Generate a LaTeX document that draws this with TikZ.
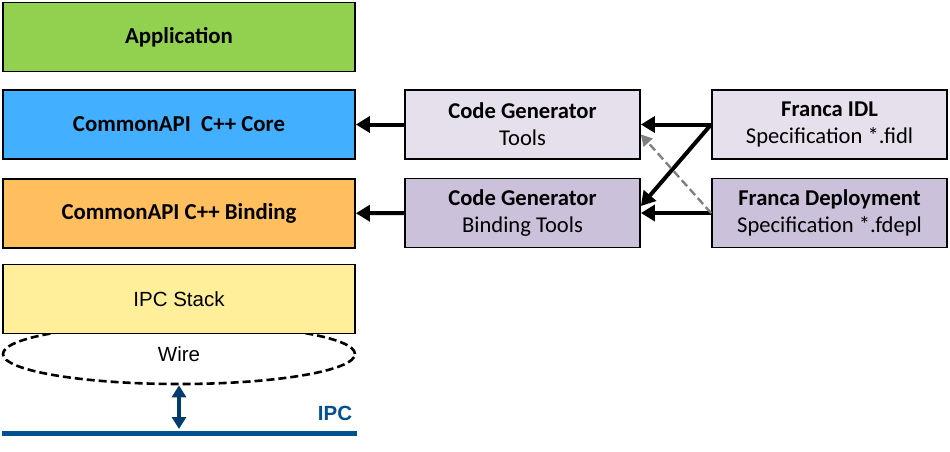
\documentclass[tikz,border=0pt]{standalone}
\usepackage{fontspec}
\setmainfont{Carlito}
\newfontfamily\arialfont{Liberation Sans}
\usetikzlibrary{arrows.meta,shapes.geometric}
\definecolor{appgreen}{HTML}{92D050}
\definecolor{coreblue}{HTML}{42AFFF}
\definecolor{bindorange}{HTML}{FFBF5F}
\definecolor{stackyellow}{HTML}{FFEF9B}
\definecolor{lilaclight}{HTML}{E5E0EC}
\definecolor{lilacdark}{HTML}{CCC1DA}
\definecolor{ipcblue}{HTML}{00528F}
\definecolor{ipcnavy}{HTML}{003C6C}
\begin{document}
\begin{tikzpicture}[x=1pt,y=-1pt,
  layer/.style={draw, line width=1.8pt, minimum width=352pt, minimum height=69pt, font=\fontsize{22.8}{26}\selectfont\bfseries},
  genbox/.style={draw, line width=1.8pt, minimum width=235pt, minimum height=69pt, align=center, font=\fontsize{22.6}{27}\selectfont},
  flow/.style={line width=4pt, -{Triangle[length=14pt,width=16pt]}},
  hint/.style={gray, line width=2.4pt, dash pattern=on 8pt off 4pt, -{Triangle[length=11pt,width=12pt]}}
]
\useasboundingbox (0,0) rectangle (950,451);

% stack on the left
\node (wire) at (179,354) [draw, ellipse, line width=2.6pt, dash pattern=on 8pt off 4pt, minimum width=352pt, minimum height=60pt, font=\arialfont\fontsize{20.5}{24}\selectfont] {Wire};
\node (app) at (179,37) [layer, fill=appgreen] {Application};
\node (core) at (179,124.5) [layer, fill=coreblue] {CommonAPI\ \ C++ Core};
\node (bind) at (179,213.5) [layer, fill=bindorange] {CommonAPI C++ Binding};
\node (stack) at (179,299) [layer, fill=stackyellow, font=\arialfont\fontsize{20.5}{24}\selectfont] {IPC Stack};

% bus
\coordinate (busL) at (2,433);
\coordinate (busR) at (357,433);
\coordinate (bus) at (179,429);
\draw[ipcblue, line width=5pt] (busL) -- (busR);
\node (ipc) at (335,413) [ipcblue, font=\arialfont\fontsize{20.5}{24}\selectfont\bfseries] {IPC};
\draw[ipcnavy, line width=3.5pt, {Triangle[length=12pt,width=14pt]}-{Triangle[length=12pt,width=14pt]}] (wire.south) -- (bus);

% generators and specs
\node (gtool) at (522.5,124.5) [genbox, fill=lilaclight] {\textbf{Code Generator}\\Tools};
\node (gbind) at (522.5,213) [genbox, fill=lilacdark] {\textbf{Code Generator}\\Binding Tools};
\node (idl) at (829.5,124.5) [genbox, fill=lilaclight] {\textbf{Franca IDL}\\Specification *.fidl};
\node (depl) at (829.5,213) [genbox, fill=lilacdark] {\textbf{Franca Deployment}\\Specification *.fdepl};

\draw[flow] (gtool) -- (core);
\draw[flow] (gbind) -- (bind);
\draw[flow] (idl) -- (gtool);
\draw[flow] (depl) -- (gbind);
\draw[flow] (idl.west) -- ([yshift=7pt]gbind.east);
\draw[hint] (depl.west) -- ([yshift=-10pt]gtool.east);
\end{tikzpicture}
\end{document}
